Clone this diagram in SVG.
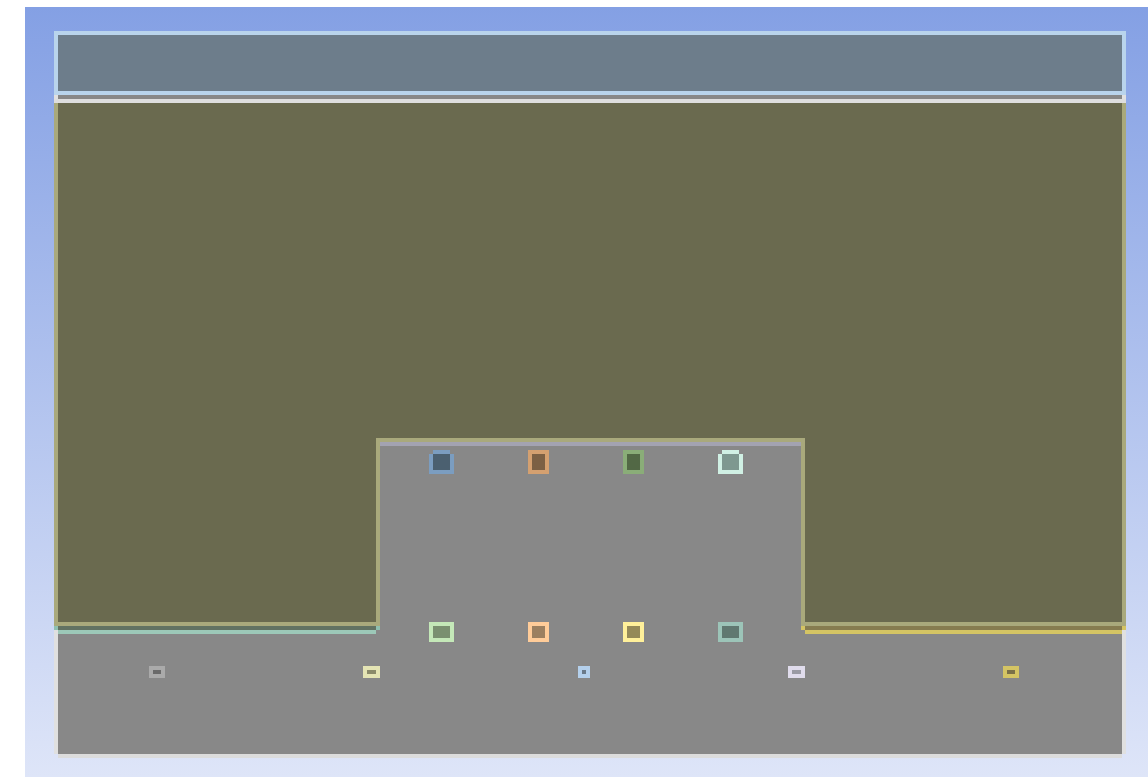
<svg xmlns="http://www.w3.org/2000/svg" width="1148" height="777" viewBox="0 0 1148 777">
  <defs>
    <linearGradient id="bg" x1="0" y1="0" x2="0" y2="1">
      <stop offset="0" stop-color="#84a0e4"/>
      <stop offset="1" stop-color="#dee5f8"/>
    </linearGradient>
    <style>
      .node rect { stroke-width: 4; }
      .tiny rect { stroke-width: 4; }
    </style>
  </defs>
  <rect x="0" y="0" width="1148" height="777" fill="#ffffff"/>
  <rect x="25" y="7" width="1123" height="770" fill="url(#bg)"/>

  <!-- lower gray panel -->
  <g id="panel">
    <rect x="58" y="95" width="1064" height="659" fill="#888888"/>
    <rect x="54" y="95" width="4" height="659" fill="#e0e0e0"/>
    <rect x="1122" y="95" width="4" height="659" fill="#e0e0e0"/>
    <rect x="58" y="754" width="1064" height="4" fill="#dcdcdc"/>
  </g>

  <!-- header -->
  <g id="header">
    <rect x="56" y="33" width="1068" height="60" fill="#6d7d8b" stroke="#b9d4ec" stroke-width="4"/>
  </g>

  <!-- olive region -->
  <g id="olive">
    <path d="M56,101 H1124 V624 H803 V440 H378 V624 H56 Z" fill="#6a6a4f" stroke="#a9a97c" stroke-width="4"/>
    <rect x="54" y="99" width="1072" height="4" fill="#dedede"/>
  </g>

  <!-- connectors / edge lines -->
  <g id="connectors">
    <rect x="380" y="442" width="421" height="4" fill="#a3a3b1"/>
    <rect x="58" y="626" width="318" height="4" fill="#627262"/>
    <rect x="54" y="626" width="4" height="4" fill="#8fc0b0"/>
    <rect x="376" y="626" width="4" height="4" fill="#8fc0b0"/>
    <rect x="58" y="630" width="318" height="4" fill="#9cc8b8"/>
    <rect x="805" y="626" width="317" height="4" fill="#867c50"/>
    <rect x="801" y="626" width="4" height="4" fill="#d4c464"/>
    <rect x="1122" y="626" width="4" height="4" fill="#d4c464"/>
    <rect x="805" y="630" width="317" height="4" fill="#d4c464"/>
  </g>

  <!-- top row nodes -->
  <g id="n-blue">
    <rect x="429" y="454" width="25" height="20" fill="#7b9dc0"/>
    <rect x="433" y="450" width="17" height="4" fill="#7b9dc0"/>
    <rect x="433" y="454" width="17" height="16" fill="#4b6070"/>
  </g>
  <g id="n-orange" class="node"><rect x="530" y="452" width="17" height="20" fill="#7c6044" stroke="#d4a070"/></g>
  <g id="n-green" class="node"><rect x="625" y="452" width="17" height="20" fill="#526845" stroke="#8aad78"/></g>
  <g id="n-mint">
    <rect x="718" y="454" width="25" height="20" fill="#d0f0e4"/>
    <rect x="722" y="450" width="17" height="4" fill="#d0f0e4"/>
    <rect x="722" y="454" width="17" height="16" fill="#7e9890"/>
  </g>

  <!-- second row nodes -->
  <g id="n-lightgreen" class="node"><rect x="431" y="624" width="21" height="16" fill="#7a9070" stroke="#c4e8b8"/></g>
  <g id="n-peach" class="node"><rect x="530" y="624" width="17" height="16" fill="#9c8060" stroke="#ffcc99"/></g>
  <g id="n-yellow" class="node"><rect x="625" y="624" width="17" height="16" fill="#958a58" stroke="#fff09a"/></g>
  <g id="n-teal" class="node"><rect x="720" y="624" width="21" height="16" fill="#607870" stroke="#9cc4b8"/></g>

  <!-- tiny row nodes -->
  <g id="t-gray" class="tiny"><rect x="151" y="668" width="12" height="8" fill="#6a6a6a" stroke="#aaaaaa"/></g>
  <g id="t-cream" class="tiny"><rect x="365" y="668" width="13" height="8" fill="#8a8a6a" stroke="#e4e4b4"/></g>
  <g id="t-blue" class="tiny"><rect x="580" y="668" width="8" height="8" fill="#6a7a8a" stroke="#b4d0ec"/></g>
  <g id="t-lavender" class="tiny"><rect x="790" y="668" width="13" height="8" fill="#9a9aa4" stroke="#e0dcec"/></g>
  <g id="t-gold" class="tiny"><rect x="1005" y="668" width="12" height="8" fill="#7a7048" stroke="#d4c464"/></g>
</svg>
